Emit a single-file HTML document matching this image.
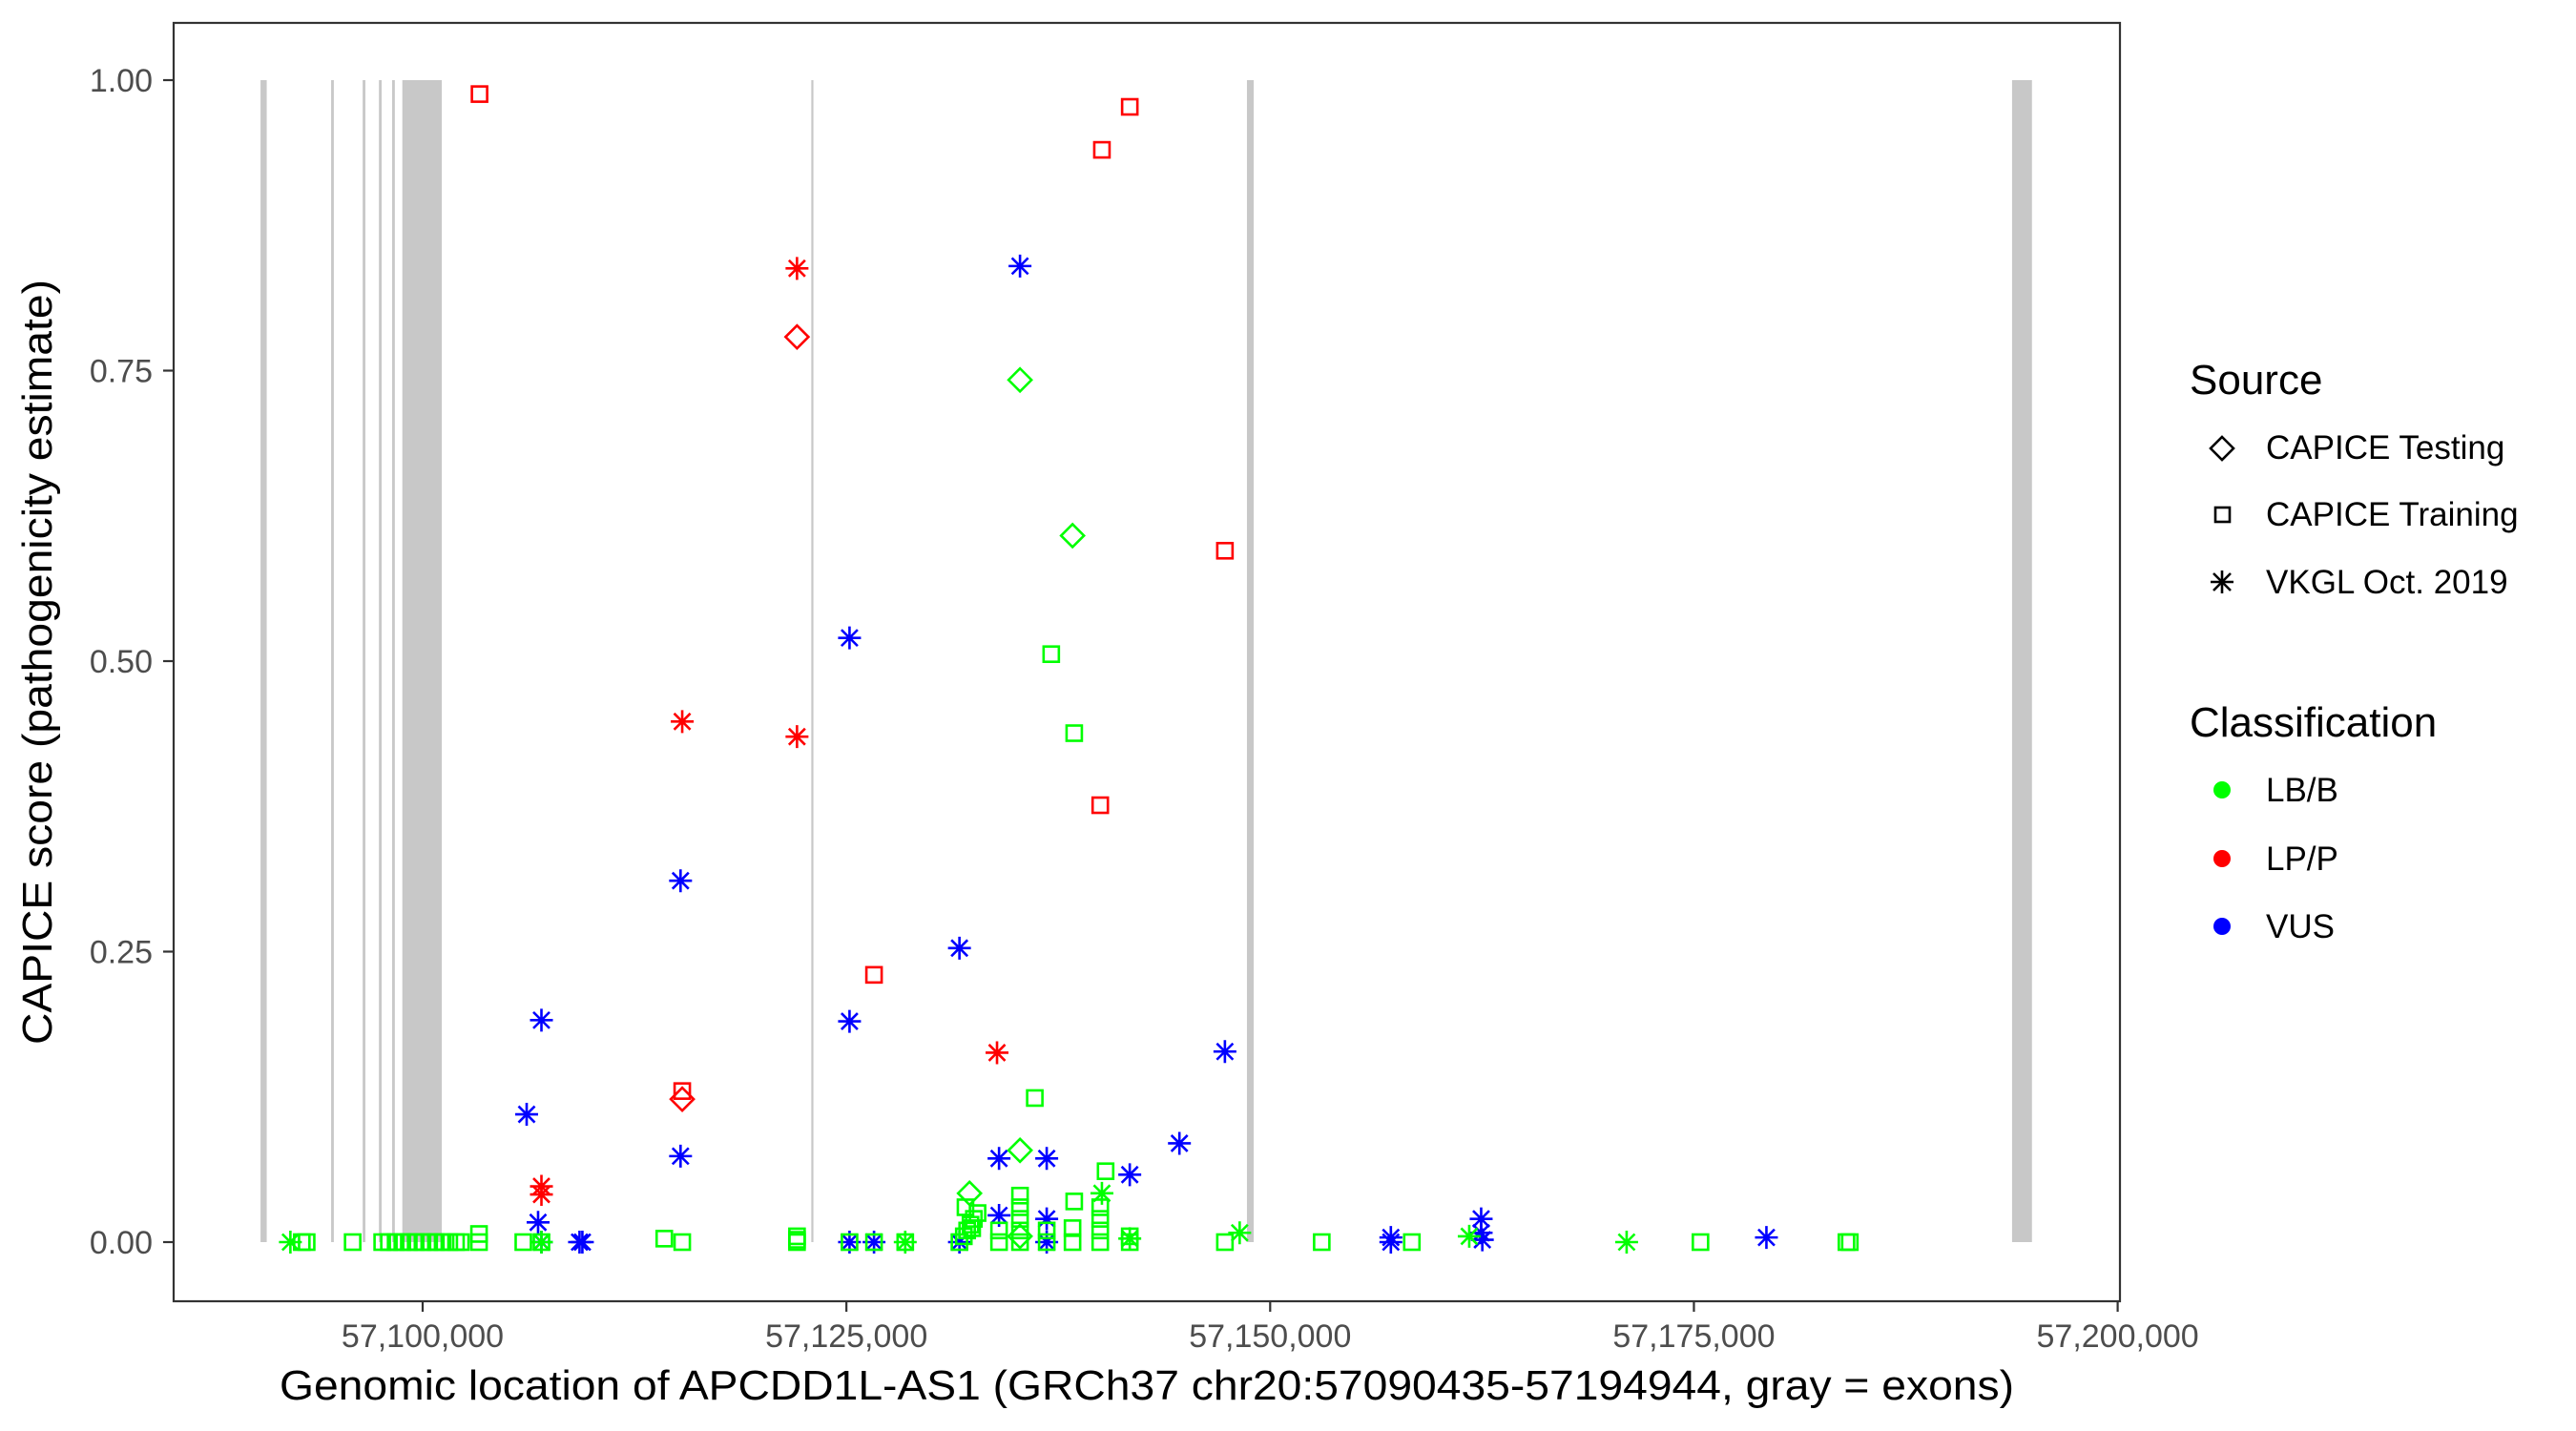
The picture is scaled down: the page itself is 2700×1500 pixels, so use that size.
<!DOCTYPE html>
<html><head><meta charset="utf-8"><style>
html,body{margin:0;padding:0;background:#fff;}
svg{display:block;font-family:"Liberation Sans",Arial,sans-serif;}
</style></head><body>
<svg id="chart" width="2700" height="1500" viewBox="0 0 2700 1500" xmlns="http://www.w3.org/2000/svg">
<rect x="0" y="0" width="2700" height="1500" fill="#fff"/>
<g id="exons"></g>
<g id="points"></g>
<rect x="182" y="24" width="2040" height="1340" fill="none" stroke="#333" stroke-width="2.2"/>
<g id="axes"></g>
<text x="1202" y="1467" font-size="44" text-anchor="middle" textLength="1818" lengthAdjust="spacingAndGlyphs">Genomic location of APCDD1L-AS1 (GRCh37 chr20:57090435-57194944, gray = exons)</text>
<text transform="translate(54,694) rotate(-90)" font-size="44" text-anchor="middle" textLength="802" lengthAdjust="spacingAndGlyphs">CAPICE score (pathogenicity estimate)</text>
<g id="legend">
<text x="2295" y="413" font-size="44">Source</text>
<polygon points="2329,458 2341,470 2329,482 2317,470" fill="none" stroke="#000" stroke-width="2.6"/>
<text x="2375" y="481" font-size="35">CAPICE Testing</text>
<rect x="2322" y="532" width="15" height="15" fill="none" stroke="#000" stroke-width="2.6"/>
<text x="2375" y="551" font-size="35">CAPICE Training</text>
<g stroke="#000" stroke-width="2.6">
<line x1="2317" y1="610" x2="2341" y2="610"/><line x1="2329" y1="598" x2="2329" y2="622"/>
<line x1="2320" y1="601" x2="2338" y2="619"/><line x1="2320" y1="619" x2="2338" y2="601"/></g>
<text x="2375" y="622" font-size="35">VKGL Oct. 2019</text>
<text x="2295" y="772" font-size="44">Classification</text>
<circle cx="2329" cy="828" r="9" fill="#00ff00"/>
<text x="2375" y="840" font-size="35">LB/B</text>
<circle cx="2329" cy="900" r="9" fill="#ff0000"/>
<text x="2375" y="912" font-size="35">LP/P</text>
<circle cx="2329" cy="971" r="9" fill="#0000ff"/>
<text x="2375" y="983" font-size="35">VUS</text>
</g>
</svg>
<script>
const xTicks = [57100000, 57125000, 57150000, 57175000, 57200000];
const xTickLabels = ["57,100,000", "57,125,000", "57,150,000", "57,175,000", "57,200,000"];
const yTicks = [0, 0.25, 0.5, 0.75, 1];
const yTickLabels = ["0.00", "0.25", "0.50", "0.75", "1.00"];
const exonStarts = [57090435, 57094600, 57096460, 57097420, 57098200, 57098800, 57122930, 57148630, 57193770];
const exonEnds   = [57090800, 57094760, 57096620, 57097580, 57098360, 57101130, 57123050, 57149030, 57194944];
const positions = [
57103355,57141717,57140074,57122085,57122085,57147330,57115314,57122085,57139975,57126629,57133886,57115314,57115314,57107008,57107008,
57135242,57125184,57115215,57131669,57125184,57107008,57106136,57115215,57134005,57136817,57144647,57141717,57147330,57106810,57107008,57109423,57109255,57125184,57126629,57131669,57134005,57136817,57136817,57157121,57157121,57162448,57162448,57162517,57179278,
57135242,57138341,57137084,57138440,57136114,57135242,57140291,57140074,57132263,57138440,
57092197,57092870,57093158,57095870,57097613,57098009,57098405,57098800,57099183,57099587,57099989,57100385,57100781,57101177,57101572,57101968,57102254,57103325,57103325,57105938,57107008,57107008,57114254,57115314,57122085,57122085,57122085,57125184,57126629,57128471,57128471,
57131669,57131926,57132124,57132322,57132520,57132738,57132025,57132421,57134005,57134005,57135242,57135242,57135242,57135242,57135242,57135242,57136817,57136817,57138341,57138341,57139975,57139975,57139975,57139975,57141717,57141717,57141717,57147330,57148202,57153043,57158359,57161745,57171031,57175387,57184000,57184198];
const scores = [
0.988,0.977,0.94,0.838,0.779,0.595,0.448,0.435,0.376,0.23,0.163,0.13,0.123,0.048,0.041,
0.84,0.52,0.311,0.253,0.19,0.191,0.11,0.074,0.072,0.072,0.085,0.058,0.164,0.017,0,0,0,0,0,0,0.023,0.02,0,0.004,0,0.02,0.008,0.002,0.004,
0.742,0.608,0.506,0.438,0.124,0.079,0.061,0.042,0.042,0.035,
0,0,0,0,0,0,0,0,0,0,0,0,0,0,0,0,0,0.007,0,0,0,0,0.003,0,0.005,0.002,0,0,0,0,0,
0,0.005,0.01,0.015,0.02,0.025,0.03,0.012,0,0.01,0,0.01,0.02,0.03,0.04,0.005,0,0.01,0,0.012,0,0.01,0.02,0.03,0,0.005,0.003,0,0.008,0,0,0.005,0,0,0,0];
const sources = [
"sq","sq","sq","ast","dia","sq","ast","ast","sq","sq","ast","sq","dia","ast","ast",
"ast","ast","ast","ast","ast","ast","ast","ast","ast","ast","ast","ast","ast","ast","ast","ast","ast","ast","ast","ast","ast","ast","ast","ast","ast","ast","ast","ast","ast",
"dia","dia","sq","sq","sq","dia","sq","ast","dia","sq",
"ast","sq","sq","sq","sq","sq","sq","sq","sq","sq","sq","sq","sq","sq","sq","sq","sq","sq","sq","sq","ast","sq","sq","sq","sq","sq","sq","sq","sq","sq","ast",
"sq","sq","sq","sq","sq","sq","sq","sq","sq","sq","sq","sq","sq","sq","sq","dia","sq","sq","sq","sq","sq","sq","sq","sq","sq","sq","ast","sq","ast","sq","sq","ast","ast","sq","sq","sq"];
const classes = [
"LP/P","LP/P","LP/P","LP/P","LP/P","LP/P","LP/P","LP/P","LP/P","LP/P","LP/P","LP/P","LP/P","LP/P","LP/P",
"VUS","VUS","VUS","VUS","VUS","VUS","VUS","VUS","VUS","VUS","VUS","VUS","VUS","VUS","VUS","VUS","VUS","VUS","VUS","VUS","VUS","VUS","VUS","VUS","VUS","VUS","VUS","VUS","VUS"];

const NS = "http://www.w3.org/2000/svg";
const X0 = 57100000, PX0 = 443, K = 0.017766;
function xScale(v){ return PX0 + (v - X0) * K; }
function yScale(v){ return 1302 - v * 1218; }
const colorMap = {"LB/B":"#00ff00","LP/P":"#ff0000","VUS":"#0000ff"};

const exG = document.getElementById('exons');
for (let i = 0; i < exonStarts.length; i++) {
  const r = document.createElementNS(NS, 'rect');
  const a = xScale(exonStarts[i]), b = xScale(exonEnds[i]);
  r.setAttribute('x', a); r.setAttribute('y', yScale(1));
  r.setAttribute('width', Math.max(2.2, b - a)); r.setAttribute('height', yScale(0) - yScale(1));
  r.setAttribute('fill', '#c8c8c8');
  
  
  exG.appendChild(r);
}

const axG = document.getElementById('axes');
for (let i = 0; i < yTicks.length; i++) {
  const y = yScale(yTicks[i]);
  const l = document.createElementNS(NS, 'line');
  l.setAttribute('x1', 171); l.setAttribute('x2', 182); l.setAttribute('y1', y); l.setAttribute('y2', y);
  l.setAttribute('stroke', '#333'); l.setAttribute('stroke-width', '2.2');
  
  
  axG.appendChild(l);
  const t = document.createElementNS(NS, 'text');
  t.setAttribute('x', 160); t.setAttribute('y', y + 12);
  t.setAttribute('text-anchor', 'end'); t.setAttribute('font-size', '34'); t.setAttribute('fill', '#4d4d4d');
  t.textContent = yTickLabels[i];
  
  
  axG.appendChild(t);
}
for (let i = 0; i < xTicks.length; i++) {
  const x = xScale(xTicks[i]);
  const l = document.createElementNS(NS, 'line');
  l.setAttribute('x1', x); l.setAttribute('x2', x); l.setAttribute('y1', 1364); l.setAttribute('y2', 1375);
  l.setAttribute('stroke', '#333'); l.setAttribute('stroke-width', '2.2');
  
  
  axG.appendChild(l);
  const t = document.createElementNS(NS, 'text');
  t.setAttribute('x', x); t.setAttribute('y', 1412);
  t.setAttribute('text-anchor', 'middle'); t.setAttribute('font-size', '34'); t.setAttribute('fill', '#4d4d4d');
  t.textContent = xTickLabels[i];
  
  
  axG.appendChild(t);
}

const pG = document.getElementById('points');
for (let i = 0; i < positions.length; i++) {
  const cx = xScale(positions[i]), cy = yScale(scores[i]);
  const col = colorMap[classes[i] || "LB/B"];
  let el;
  if (sources[i] === 'sq') {
    el = document.createElementNS(NS, 'rect');
    el.setAttribute('x', cx - 8); el.setAttribute('y', cy - 8);
    el.setAttribute('width', 16); el.setAttribute('height', 16);
  } else if (sources[i] === 'dia') {
    el = document.createElementNS(NS, 'polygon');
    el.setAttribute('points', `${cx},${cy-12} ${cx+12},${cy} ${cx},${cy+12} ${cx-12},${cy}`);
  } else {
    el = document.createElementNS(NS, 'path');
    const r = 12, d = 8.5;
    el.setAttribute('d', `M${cx-r},${cy}H${cx+r}M${cx},${cy-r}V${cy+r}M${cx-d},${cy-d}L${cx+d},${cy+d}M${cx-d},${cy+d}L${cx+d},${cy-d}`);
  }
  el.setAttribute('fill', 'none'); el.setAttribute('stroke', col); el.setAttribute('stroke-width', '2.6');
  
  
  pG.appendChild(el);
}
</script>
</body></html>
